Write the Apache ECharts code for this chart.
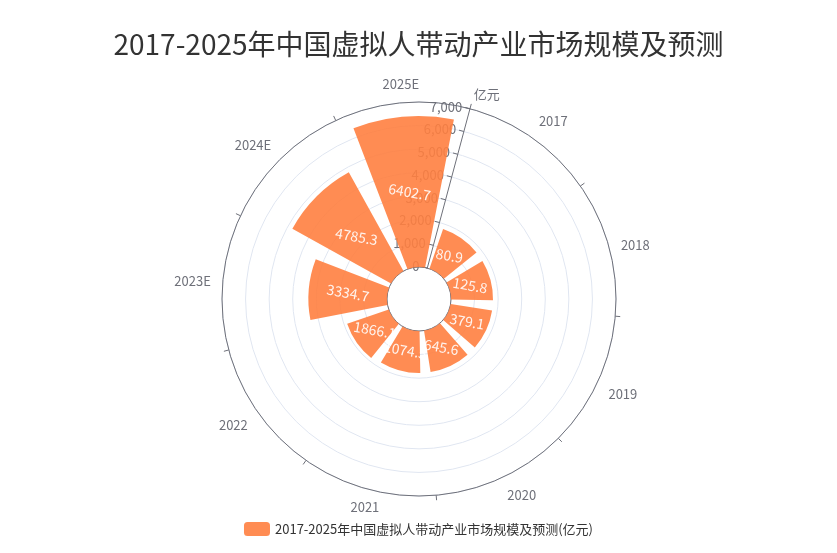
<!DOCTYPE html>
<html>
<head>
<meta charset="utf-8">
<script src="https://cdn.jsdelivr.net/npm/echarts@6/dist/echarts.min.js"></script>
<style>html,body{margin:0;padding:0;background:#fff;}#c{width:837px;height:553px;}</style>
</head>
<body>
<div id="c"></div>
<script>
const categories = ['2017', '2018', '2019', '2020', '2021', '2022', '2023E', '2024E', '2025E'];
const values = [80.9, 125.8, 379.1, 645.6, 1074.5, 1866.1, 3334.7, 4785.3, 6402.7];
const seriesName = '2017-2025年中国虚拟人带动产业市场规模及预测(亿元)';
const titleText = '2017-2025年中国虚拟人带动产业市场规模及预测';

const chart = echarts.init(document.getElementById('c'));
chart.setOption({
  textStyle: { fontFamily: 'Noto Sans CJK SC, sans-serif' },
  title: {
    text: titleText,
    left: 'center',
    top: 25,
    textStyle: { fontSize: 28, fontWeight: 'normal', color: '#333' }
  },
  legend: {
    bottom: 12,
    left: 'center',
    itemWidth: 26,
    itemHeight: 14,
    textStyle: { fontSize: 13, color: '#333' },
    data: [seriesName]
  },
  polar: {
    center: [419, 299],
    radius: [32, 197]
  },
  angleAxis: {
    type: 'category',
    data: categories,
    startAngle: 75,
    clockwise: true,
    axisLine: { lineStyle: { color: '#6E7079' } },
    axisTick: { show: true },
    axisLabel: { color: '#6E7079', fontSize: 13, margin: 12 },
    splitLine: { show: false }
  },
  radiusAxis: {
    type: 'value',
    min: 0,
    max: 7000,
    interval: 1000,
    name: '亿元',
    nameTextStyle: { color: '#6E7079', fontSize: 13 },
    axisLine: { show: true, lineStyle: { color: '#6E7079' } },
    axisTick: { show: true },
    axisLabel: { color: '#6E7079', fontSize: 13 },
    splitLine: { show: true, lineStyle: { color: '#E0E6F1' } }
  },
  series: [{
    name: seriesName,
    type: 'bar',
    coordinateSystem: 'polar',
    data: values,
    barMinHeight: 42,
    itemStyle: { color: '#ff7f40', opacity: 0.9 },
    label: {
      show: true,
      position: 'middle',
      rotate: -0.1745,
      color: '#fff',
      fontSize: 14
    }
  }]
});
</script>
</body>
</html>
